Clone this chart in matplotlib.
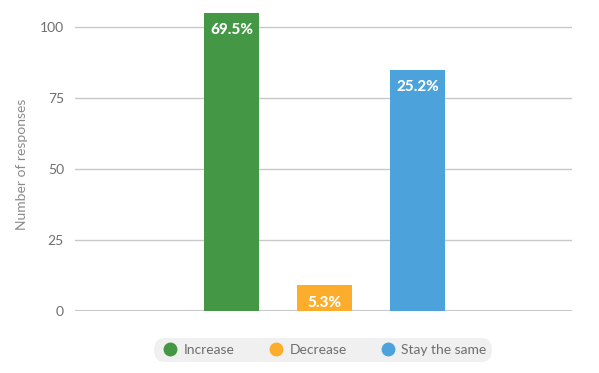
import matplotlib.pyplot as plt
from matplotlib.lines import Line2D

plt.rcParams['font.family'] = ['Lato', 'DejaVu Sans']

# Datos del gráfico
categories = ["Increase", "Decrease", "Stay the same"]
responses = [105, 9, 85]
pct_labels = ["69.5%", "5.3%", "25.2%"]
yticks = [0, 25, 50, 75, 100]

colors = ["#439745", "#FBAD2B", "#4CA3DB"]
grid_color = "#C8C8C8"
text_color = "#6E6E6E"


def plot_bars():
    fig = plt.figure(figsize=(5.99, 3.73), dpi=100)
    ax = fig.add_axes([75 / 599, 1 - 311 / 373, 497 / 599, 300 / 373])

    x = list(range(len(categories)))
    bars = ax.bar(x, responses, width=0.59, color=colors, zorder=3)

    # Etiquetas de porcentaje dentro de cada barra
    for bar, label in zip(bars, pct_labels):
        ax.annotate(label, (bar.get_x() + bar.get_width() / 2, bar.get_height()),
                    xytext=(0, -7.5), textcoords="offset points",
                    ha="center", va="top", color="white",
                    fontsize=11, fontweight="black", zorder=4)

    ax.set_xlim(-1.68, 3.66)
    ax.set_ylim(0, 105.6)
    ax.set_yticks(yticks)
    ax.set_xticks([])
    ax.yaxis.grid(True, color=grid_color, linewidth=1, zorder=0)
    ax.tick_params(axis="y", length=0, pad=8, labelsize=10, labelcolor=text_color)
    for spine in ax.spines.values():
        spine.set_visible(False)
    ax.axhline(0, color=grid_color, linewidth=1.5, zorder=2)

    fig.text(22 / 599, 1 - 164 / 373, "Number of responses", rotation=90,
             ha="center", va="center", fontsize=10, color="#8A8A8A")

    # Leyenda tipo "pastilla"
    handles = [Line2D([], [], marker="o", linestyle="", markersize=9,
                      markerfacecolor=c, markeredgecolor=c) for c in colors]
    leg = fig.legend(handles, categories, ncol=3, loc="center",
                     bbox_to_anchor=(323 / 599, 1 - 350 / 373),
                     frameon=True, fontsize=10, handletextpad=0.15,
                     columnspacing=2.2, borderpad=0.4, handlelength=1.6,
                     borderaxespad=0, labelcolor=text_color)
    frame = leg.get_frame()
    frame.set_facecolor("#F0F0F0")
    frame.set_edgecolor("none")
    frame.set_alpha(1)
    frame.set_boxstyle("round,pad=0,rounding_size=0.8")

    fig.savefig("out.png", dpi=100)


if __name__ == "__main__":
    plot_bars()
